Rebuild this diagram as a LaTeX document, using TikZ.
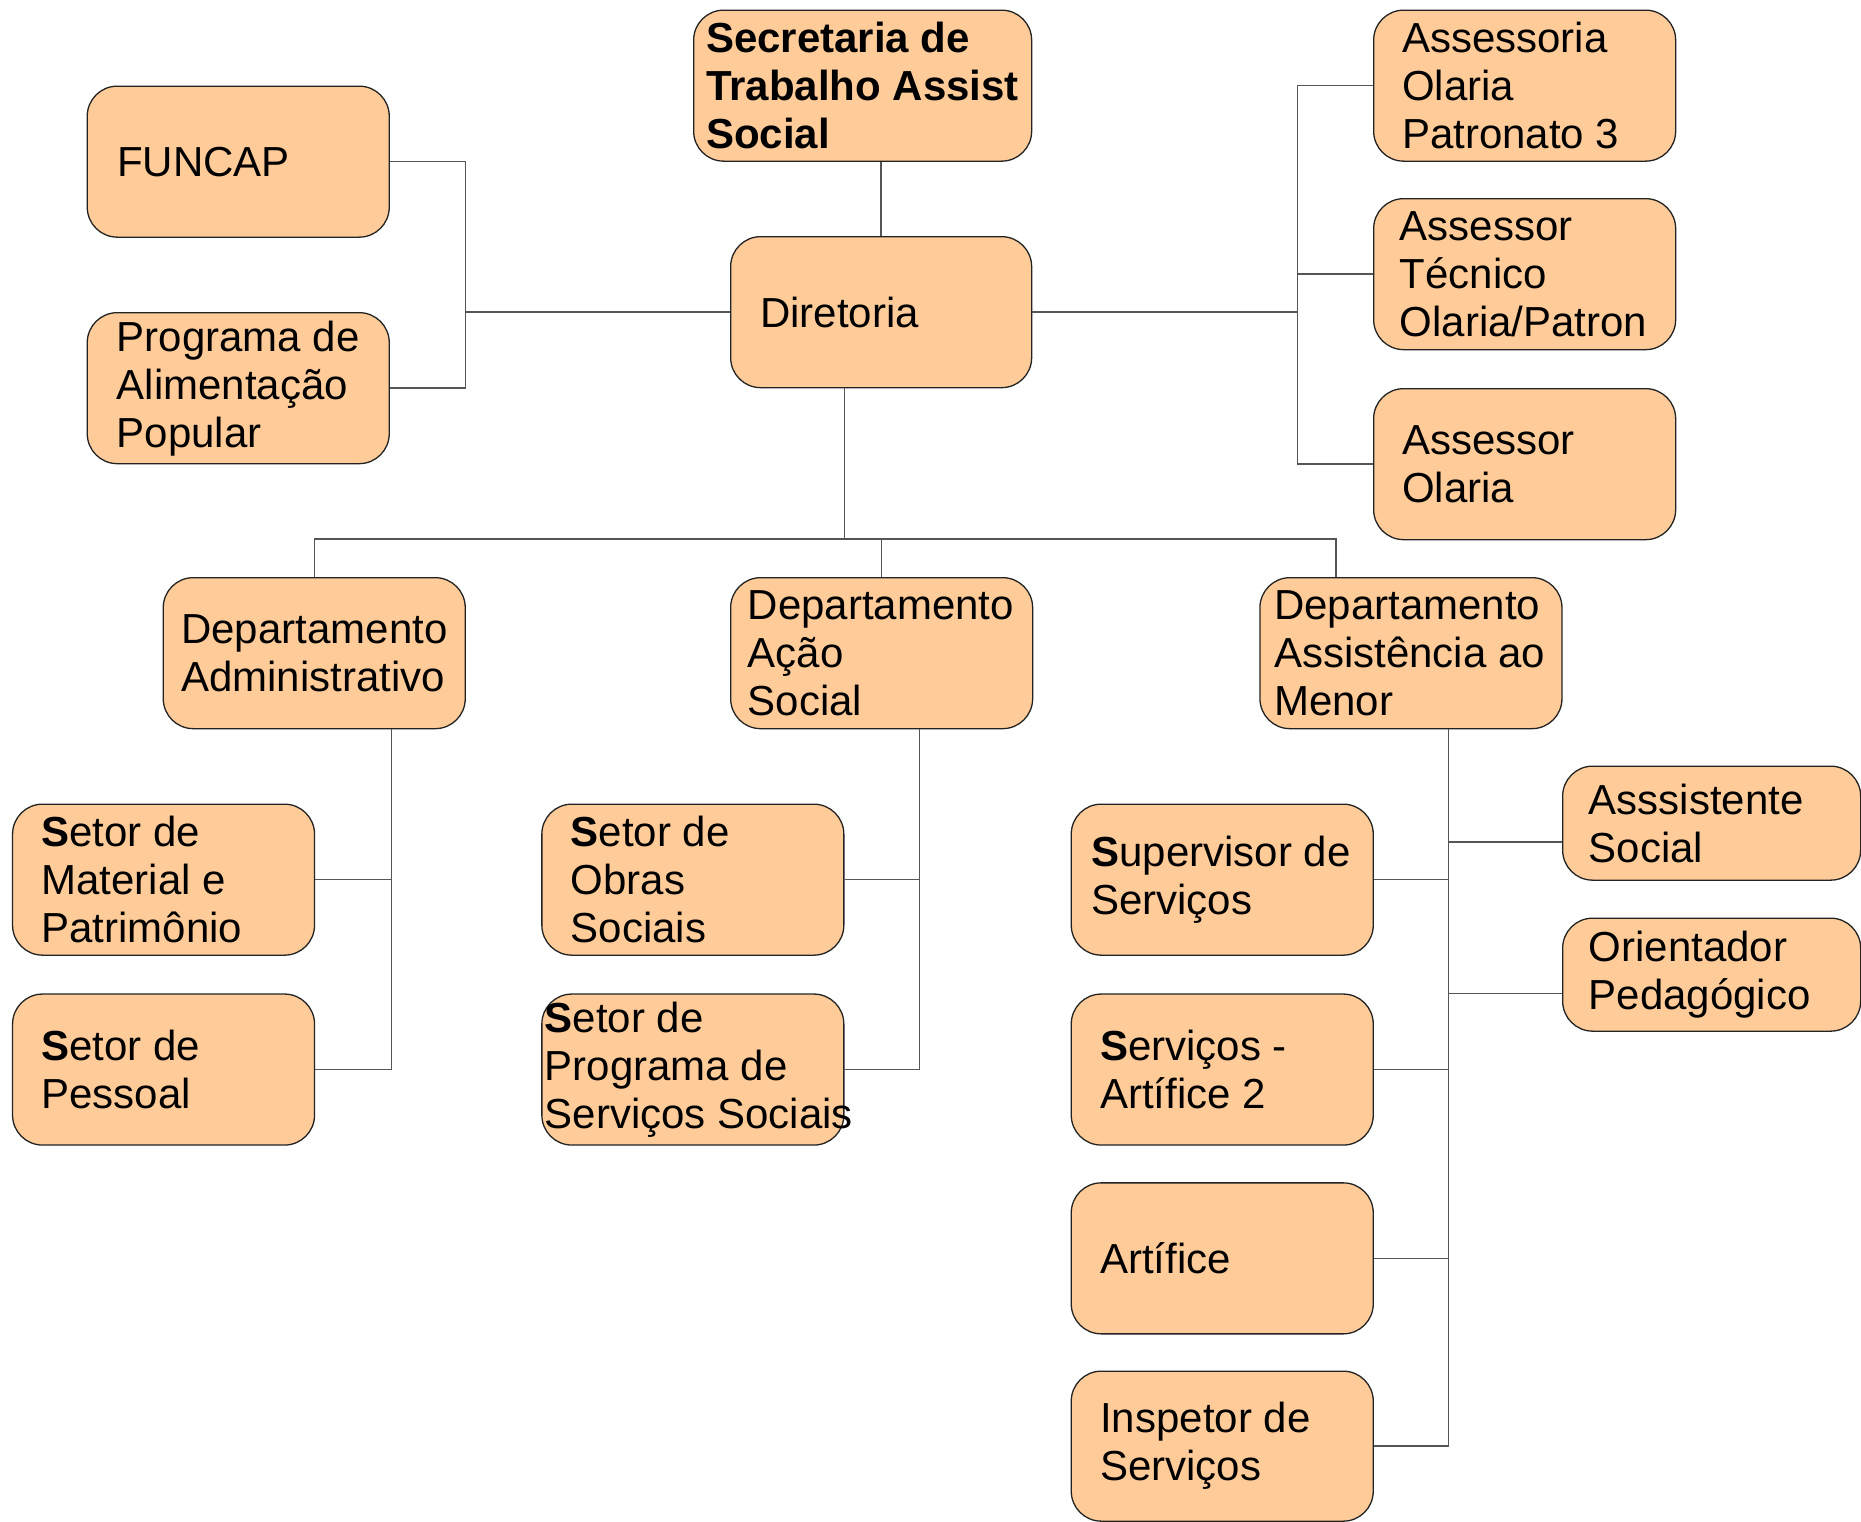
\documentclass[tikz,border=0pt]{standalone}
\usepackage{fontspec}
\setmainfont{Liberation Sans}
\definecolor{boxfill}{RGB}{255,204,153}
\definecolor{boxline}{RGB}{35,35,35}
\definecolor{connline}{RGB}{85,85,85}
\tikzset{
  orgbox/.style={draw=boxline, fill=boxfill, rounded corners=30pt, line width=1.3pt, inner sep=0pt},
  orgtext/.style={inner sep=0pt, align=left, anchor=west, font=\fontsize{42}{48}\selectfont},
  link/.style={draw=connline, line width=1.5pt}
}
% name, x, y (top, downwards), width, height, text padding, text
\newcommand\obox[7]{%
  \node[orgbox, minimum width=#4pt, minimum height=#5pt, anchor=north west] (#1) at (#2pt,-#3pt) {};
  \node[orgtext] (#1-t) at ([xshift=#6pt]#1.west) {#7};
}
\begin{document}
\begin{tikzpicture}
\fill[white] (0,0) rectangle (1861pt,-1521pt);
\useasboundingbox (0,0) rectangle (1861pt,-1521pt);

\obox{sec}{693}{9.5}{338}{151}{13}{\textbf{Secretaria de}\\\textbf{Trabalho Assist}\\\textbf{Social}}
\obox{dir}{730}{236}{301}{151}{30}{Diretoria}
\obox{funcap}{86.6}{85.5}{302}{151}{30.5}{FUNCAP}
\obox{pap}{86.6}{312}{302}{151}{30}{Programa de\\Alimentação\\Popular}
\obox{aso}{1373}{9.5}{302}{151}{29}{Assessoria\\Olaria\\Patronato 3}
\obox{ast}{1373}{198}{302}{151}{26.5}{Assessor\\Técnico\\Olaria/Patron}
\obox{asol}{1373}{388}{302}{151}{29}{Assessor\\Olaria}
\obox{dadm}{162.6}{577}{302}{151}{18.5}{Departamento\\Administrativo}
\obox{dacao}{730}{577}{302}{151}{17.5}{Departamento\\Ação\\Social}
\obox{dmen}{1259.3}{577}{302}{151}{14.5}{Departamento\\Assistência ao\\Menor}
\obox{smat}{11.9}{803.5}{302}{151}{29.5}{\textbf{S}etor de\\Material e\\Patrimônio}
\obox{spes}{11.9}{993.4}{302}{151}{29.5}{\textbf{S}etor de\\Pessoal}
\obox{sobr}{541.2}{803.5}{302}{151}{29.5}{\textbf{S}etor de\\Obras\\Sociais}
\obox{sprg}{541.2}{993.4}{302}{151}{3.5}{\textbf{S}etor de\\Programa de\\Serviços Sociais}
\obox{sup}{1070.6}{803.5}{302}{151}{20.5}{\textbf{S}upervisor de\\Serviços}
\obox{serv}{1070.6}{993.4}{302}{151}{29.5}{\textbf{S}erviços -\\Artífice 2}
\obox{art}{1070.6}{1182.2}{302}{151}{29.5}{Artífice}
\obox{insp}{1070.6}{1370.5}{302}{150}{29.5}{Inspetor de\\Serviços}
\obox{asst}{1562}{765.5}{298}{114}{26.5}{Asssistente\\Social}
\obox{ori}{1562}{917.5}{298}{113}{26.5}{Orientador\\Pedagógico}

% junction coordinates
\coordinate (jL) at (465.3pt,0);
\coordinate (jR) at (1297.3pt,0);
\coordinate (bus) at (0,-538.8pt);
\coordinate (dirb) at ([xshift=-36.6pt]dir.south);
\coordinate (menb) at ([xshift=-75pt]dmen.north);
\coordinate (admv) at ([xshift=77pt]dadm.south);
\coordinate (acav) at ([xshift=37.7pt]dacao.south);
\coordinate (menv) at ([xshift=37.7pt]dmen.south);
\coordinate (asstc) at ([yshift=-19pt]asst.west);
\coordinate (oric) at ([yshift=-19pt]ori.west);

% top
\draw[link] (dir.north) -- (dir.north |- sec.south);
% left branch
\draw[link] (dir.west) -- (jL |- dir.west);
\draw[link] (funcap.east) -| (jL |- pap.east) -- (pap.east);
% right branch
\draw[link] (dir.east) -- (jR |- dir.east);
\draw[link] (aso.west) -| (jR |- asol.west) -- (asol.west);
\draw[link] (ast.west) -- (jR |- ast.west);
% departments bus
\draw[link] (dirb) -- (dirb |- bus);
\draw[link] (dadm.north) |- (menb |- bus) -- (menb);
\draw[link] (dacao.north) -- (dacao.north |- bus);
% administrativo
\draw[link] (admv) |- (spes.east);
\draw[link] (smat.east) -- (admv |- smat.east);
% acao social
\draw[link] (acav) |- (sprg.east);
\draw[link] (sobr.east) -- (acav |- sobr.east);
% menor
\draw[link] (menv) |- (insp.east);
\draw[link] (sup.east) -- (menv |- sup.east);
\draw[link] (serv.east) -- (menv |- serv.east);
\draw[link] (art.east) -- (menv |- art.east);
\draw[link] (asstc) -- (menv |- asstc);
\draw[link] (oric) -- (menv |- oric);
\end{tikzpicture}
\end{document}
